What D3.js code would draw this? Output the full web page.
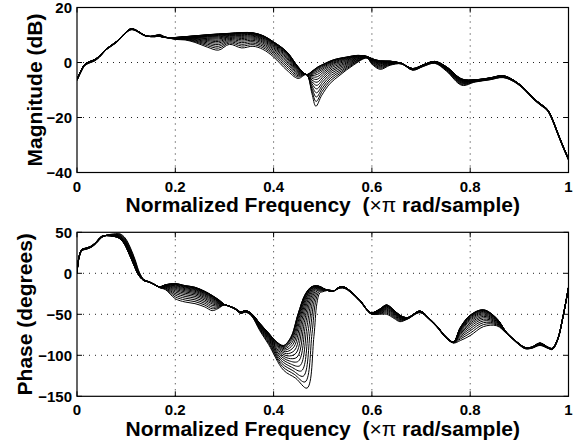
<!DOCTYPE html>
<html><head><meta charset="utf-8">
<script src="https://cdn.jsdelivr.net/npm/d3@7"></script>
<style>body{margin:0;background:#fff}svg{display:block}</style>
</head><body>
<script>
// ---------------- data ----------------
const xTicks = [0, 0.2, 0.4, 0.6, 0.8, 1];
const xTickLabels = ["0", "0.2", "0.4", "0.6", "0.8", "1"];
const magTicks = [-40, -20, 0, 20];
const magTickLabels = ["\u221240", "\u221220", "0", "20"];
const phaseTicks = [-150, -100, -50, 0, 50];
const phaseTickLabels = ["\u2212150", "\u2212100", "\u221250", "0", "50"];

// parameter of each response in the family (0 = first extreme, 1 = second extreme)
const familyWeights = [0, 0.005, 0.016, 0.035, 0.062, 0.098, 0.14, 0.19, 0.25, 0.316, 0.39, 0.47, 0.56, 0.66, 0.766, 0.879, 1.0];

// magnitude (dB) – first extreme response (shallow notch)
const magFreqA = [0,0.008,0.016,0.025,0.035,0.045,0.06,0.08,0.1,0.11,0.12,0.131,0.142,0.158,0.168,0.178,0.2,0.22,0.24,0.265,0.288,0.31,0.335,0.358,0.378,0.4,0.427,0.45,0.467,0.478,0.49,0.505,0.522,0.549,0.572,0.59,0.6,0.617,0.637,0.66,0.683,0.705,0.728,0.752,0.783,0.81,0.84,0.867,0.89,0.91,0.928,0.945,0.956,0.966,0.976,0.988,1.0];
const magA = [-6.1,-3.0,-0.6,0.3,1.0,2.3,5.0,7.6,11.1,12.3,11.8,10.6,9.6,9.4,9.5,9.1,9.1,9.4,9.7,10.1,10.4,10.6,10.9,10.8,9.8,7.5,3.9,-1.6,-4.4,-3.2,-1.6,-0.3,1.0,2.0,2.6,2.2,1.4,0.6,0.5,-0.3,-2.2,-0.8,0.4,-1.6,-6.0,-6.3,-5.6,-4.8,-6.6,-9.4,-12.8,-15.3,-16.8,-20.0,-24.6,-30.0,-35.0];
// magnitude (dB) – second extreme response (deep notch)
const magFreqB = [0,0.008,0.016,0.025,0.035,0.045,0.06,0.08,0.1,0.11,0.12,0.131,0.142,0.158,0.168,0.178,0.2,0.22,0.24,0.265,0.288,0.31,0.335,0.358,0.378,0.4,0.427,0.45,0.467,0.478,0.486,0.498,0.515,0.535,0.562,0.59,0.6,0.617,0.637,0.66,0.683,0.705,0.728,0.752,0.783,0.81,0.84,0.867,0.89,0.91,0.928,0.945,0.956,0.966,0.976,0.988,1.0];
const magB = [-6.6,-3.5,-1.1,-0.2,0.5,1.8,4.7,7.2,10.8,11.9,11.5,10.3,9.5,9.8,10.2,9.4,8.4,8.2,7.3,5.6,4.5,6.6,5.3,5.9,4.8,2.0,-2.8,-5.8,-4.4,-11.3,-15.9,-11.9,-7.6,-4.6,-1.0,1.6,-0.6,-2.5,-1.0,-0.5,-2.8,-1.4,-0.3,-3.2,-8.3,-7.1,-6.3,-5.5,-7.1,-9.9,-13.3,-15.8,-17.3,-20.5,-25.1,-30.5,-35.5];

// phase (degrees) – first extreme response
const phaseFreqA = [0,0.004,0.01,0.02,0.03,0.04,0.05,0.06,0.075,0.085,0.095,0.105,0.115,0.125,0.135,0.148,0.158,0.168,0.18,0.2,0.22,0.24,0.26,0.275,0.29,0.3,0.31,0.322,0.333,0.343,0.355,0.372,0.39,0.405,0.42,0.435,0.45,0.464,0.477,0.491,0.508,0.52,0.535,0.545,0.555,0.576,0.598,0.615,0.63,0.645,0.657,0.672,0.698,0.715,0.732,0.75,0.766,0.78,0.8,0.827,0.854,0.874,0.9,0.912,0.925,0.942,0.958,0.967,0.978,0.988,1.0];
const phaseA = [0,20,29,31,33.5,39,45,46,45,43,37,25,11,-2,-8.5,-11,-14,-16.5,-14,-12.5,-15,-17,-22,-27,-33,-38,-40,-43,-47,-45.5,-49,-61,-73,-83,-88,-78,-49,-26,-16.5,-15.5,-20.5,-22,-16.5,-17,-21,-33,-48,-44,-38.5,-45,-51,-54,-46,-54,-64,-77,-83.5,-66,-51,-44.5,-55,-72,-86,-90.5,-90,-85,-90,-91.5,-80,-55,-17];
// phase (degrees) – second extreme response
const phaseFreqB = [0,0.004,0.01,0.02,0.03,0.04,0.05,0.06,0.075,0.088,0.098,0.108,0.118,0.127,0.136,0.148,0.158,0.168,0.18,0.2,0.22,0.24,0.26,0.275,0.287,0.3,0.31,0.322,0.333,0.343,0.355,0.372,0.39,0.42,0.445,0.468,0.482,0.488,0.494,0.5,0.515,0.522,0.535,0.545,0.555,0.576,0.598,0.615,0.63,0.645,0.657,0.672,0.698,0.715,0.732,0.75,0.766,0.78,0.8,0.827,0.854,0.874,0.9,0.912,0.925,0.942,0.958,0.967,0.978,0.988,1.0];
const phaseB = [0,18,27.5,29.5,32,37,43.5,46.5,48,48,43,32,17,1,-7.5,-10.5,-13.5,-17.5,-20,-31,-35,-37,-41,-45.5,-43,-38.5,-40.5,-44,-49,-47.5,-52,-70,-87,-118,-128,-140,-77,-37,-24,-22.5,-20.5,-21.5,-18,-18.5,-22.5,-34.5,-49.5,-50,-50,-55,-59,-56,-48,-55.5,-65.5,-78.5,-85,-82,-76,-65,-64,-73.5,-87.5,-92,-91.5,-88,-91.5,-93,-81.5,-56,-18];

// ---------------- drawing ----------------
const W = 576, H = 446;
const svg = d3.select("body").append("svg").attr("width", W).attr("height", H);
const FONT = "'Liberation Sans', Arial, Helvetica, sans-serif";
const left = 77, right = 568.5;
const panels = [
  {top: 7.5, bottom: 172.5, domain: [-40, 20], ticks: magTicks, labels: magTickLabels,
   ylabel: "Magnitude (dB)", ylabelX: 41.5, fa: magFreqA, va: magA, fb: magFreqB, vb: magB, id: "m"},
  {top: 232.3, bottom: 396.3, domain: [-150, 50], ticks: phaseTicks, labels: phaseTickLabels,
   ylabel: "Phase (degrees)", ylabelX: 32, fa: phaseFreqA, va: phaseA, fb: phaseFreqB, vb: phaseB, id: "p"}
];

const x = d3.scaleLinear().domain([0, 1]).range([left, right]);

panels.forEach(P => {
  const y = d3.scaleLinear().domain(P.domain).range([P.bottom, P.top]);
  const g = svg.append("g");
  const clipId = "clip-" + P.id;
  svg.append("clipPath").attr("id", clipId).append("rect")
    .attr("x", left).attr("y", P.top).attr("width", right - left).attr("height", P.bottom - P.top);

  // grid (dotted)
  const grid = g.append("g").attr("stroke", "#222").attr("stroke-width", 1).attr("stroke-dasharray", "1,5");
  xTicks.forEach(t => {
    if (t > 0 && t < 1) grid.append("line").attr("x1", x(t)).attr("x2", x(t)).attr("y1", P.bottom).attr("y2", P.top);
  });
  P.ticks.forEach(t => {
    if (t > P.domain[0] && t < P.domain[1]) grid.append("line").attr("x1", left).attr("x2", right).attr("y1", y(t)).attr("y2", y(t));
  });

  // curves
  const line = d3.line().x(d => x(d[0])).y(d => y(d[1])).curve(d3.curveCatmullRom.alpha(0.5));
  const curves = g.append("g").attr("clip-path", `url(#${clipId})`);
  familyWeights.forEach(w => {
    const pts = P.fa.map((f, i) => [f + w * (P.fb[i] - f), P.va[i] + w * (P.vb[i] - P.va[i])]);
    curves.append("path").attr("d", line(pts)).attr("fill", "none").attr("stroke", "#000").attr("stroke-width", 1.0);
  });

  // box
  g.append("rect").attr("x", left).attr("y", P.top).attr("width", right - left).attr("height", P.bottom - P.top)
    .attr("fill", "none").attr("stroke", "#000").attr("stroke-width", 1.2);

  // ticks (inward, all four sides)
  const tl = 5;
  const tk = g.append("g").attr("stroke", "#000").attr("stroke-width", 1);
  xTicks.forEach(t => {
    tk.append("line").attr("x1", x(t)).attr("x2", x(t)).attr("y1", P.bottom).attr("y2", P.bottom - tl);
    tk.append("line").attr("x1", x(t)).attr("x2", x(t)).attr("y1", P.top).attr("y2", P.top + tl);
  });
  P.ticks.forEach(t => {
    tk.append("line").attr("x1", left).attr("x2", left + tl).attr("y1", y(t)).attr("y2", y(t));
    tk.append("line").attr("x1", right).attr("x2", right - tl).attr("y1", y(t)).attr("y2", y(t));
  });

  // tick labels
  const lab = g.append("g").attr("font-family", FONT).attr("font-weight", "bold").attr("font-size", 15).attr("fill", "#000");
  xTicks.forEach((t, i) => {
    lab.append("text").attr("x", x(t)).attr("y", P.bottom + 19).attr("text-anchor", "middle").text(xTickLabels[i]);
  });
  P.ticks.forEach((t, i) => {
    lab.append("text").attr("x", left - 5).attr("y", y(t) + 5.5).attr("text-anchor", "end").text(P.labels[i]);
  });

  // x label
  const xl = g.append("text").attr("x", (left + right) / 2).attr("y", P.bottom + 39.5)
    .attr("text-anchor", "middle").attr("font-family", FONT).attr("font-weight", "bold").attr("font-size", 21)
    .style("white-space", "pre");
  xl.append("tspan").text("Normalized Frequency  (");
  xl.append("tspan").attr("font-weight", "normal").text("\u00d7\u03c0");
  xl.append("tspan").text(" rad/sample)");

  // y label
  g.append("text").attr("transform", `translate(${P.ylabelX},${(P.top + P.bottom) / 2}) rotate(-90)`)
    .attr("text-anchor", "middle").attr("font-family", FONT).attr("font-weight", "bold").attr("font-size", 21)
    .text(P.ylabel);
});
</script>
</body></html>
